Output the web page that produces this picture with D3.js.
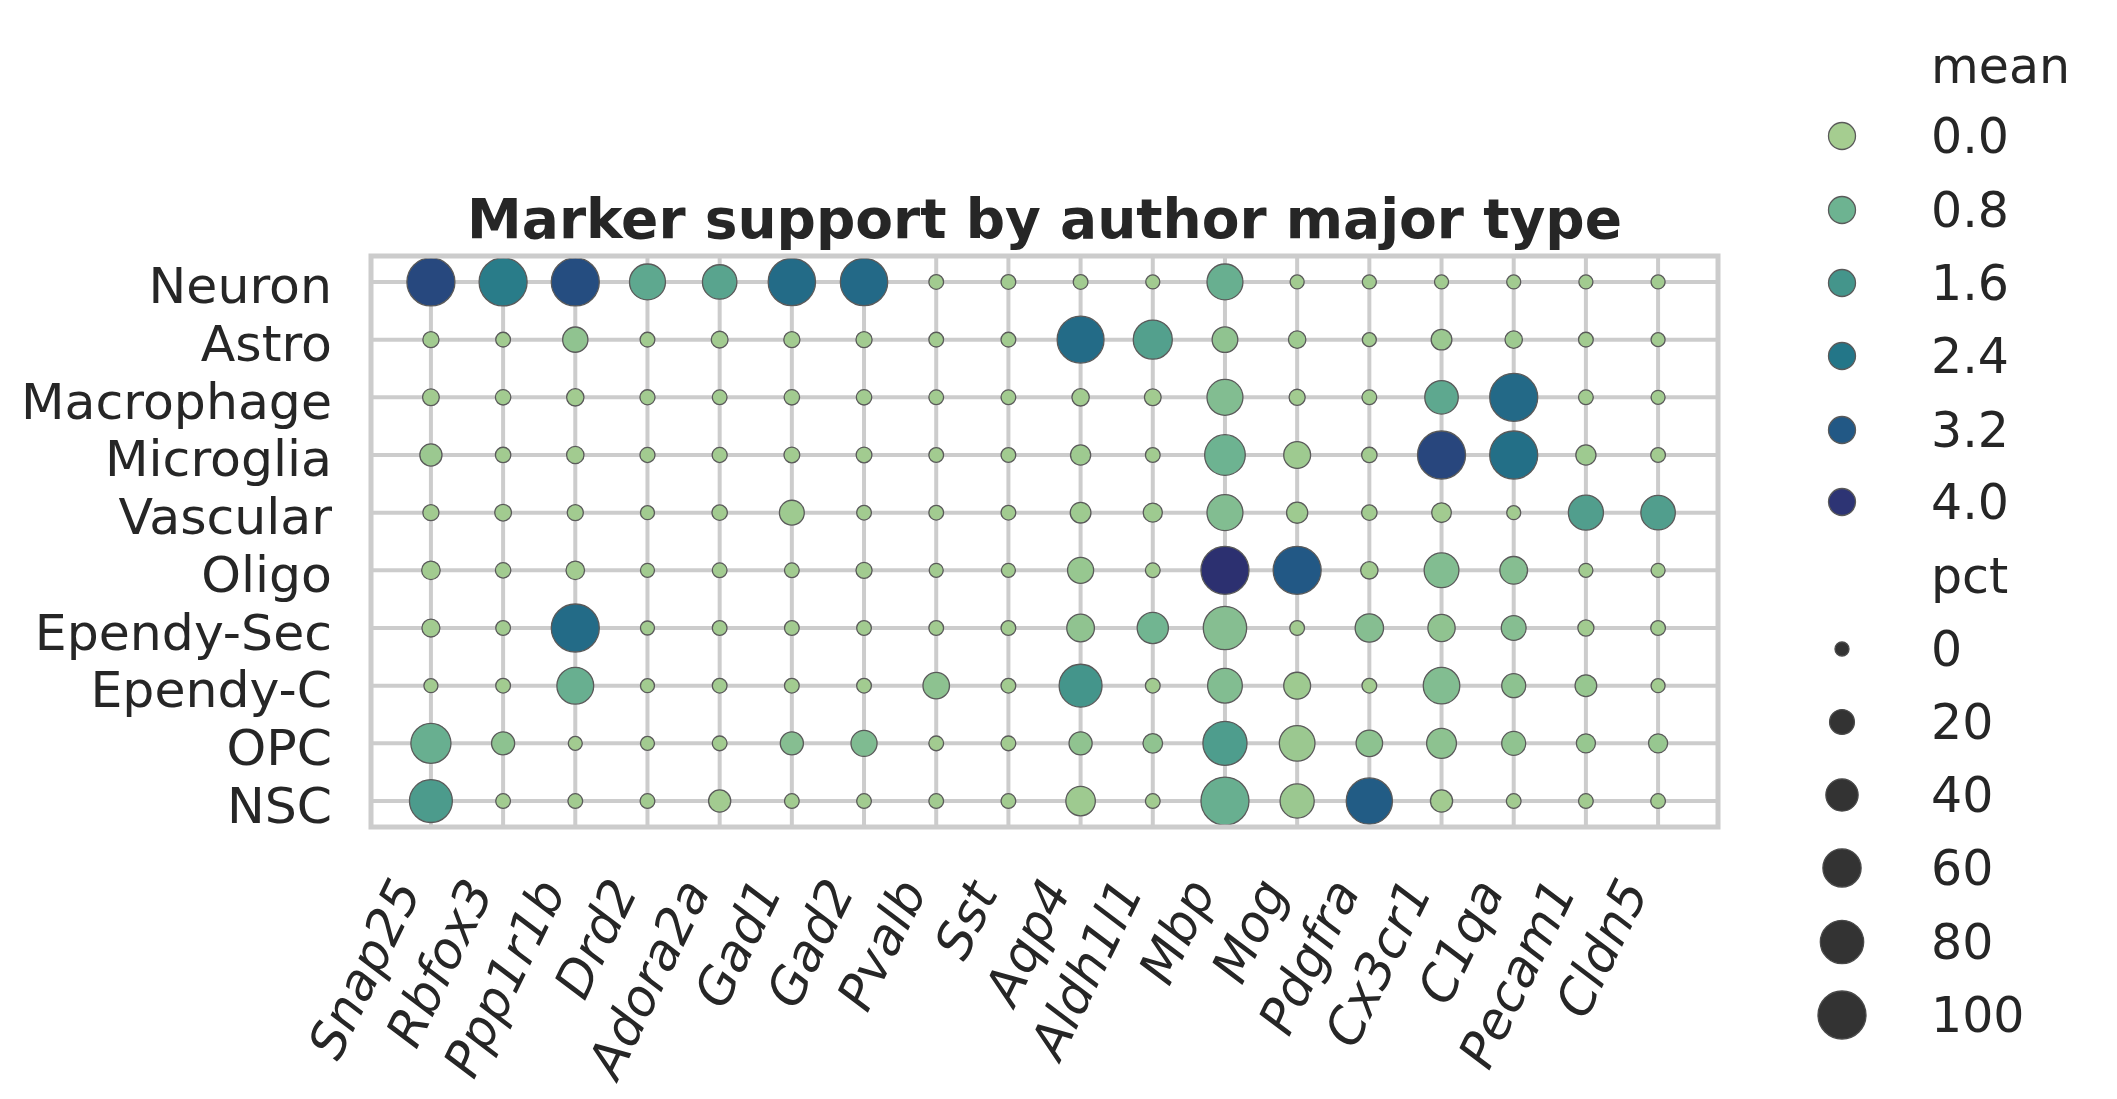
<!DOCTYPE html>
<html><head><meta charset="utf-8">
<script src="https://cdn.jsdelivr.net/npm/d3@7"></script>
<style>
html,body{margin:0;padding:0;background:#fff;}
svg{display:block;font-family:"DejaVu Sans",sans-serif;}
</style></head>
<body>
<svg id="chart" width="2117" height="1099"></svg>
<script>
const cellTypes = ["Neuron","Astro","Macrophage","Microglia","Vascular","Oligo","Ependy-Sec","Ependy-C","OPC","NSC"];
const genes = ["Snap25","Rbfox3","Ppp1r1b","Drd2","Adora2a","Gad1","Gad2","Pvalb","Sst","Aqp4","Aldh1l1","Mbp","Mog","Pdgfra","Cx3cr1","C1qa","Pecam1","Cldn5"];

// pct (size) per cell type, one value per gene
const pctNeuron     = [100,100,100,52,47,97,97,1,1,1,0,52,0,0,0,0,0,0];
const pctAstro      = [3,1,21,1,4,3,3,1,1,95,63,22,5,0,11,5,1,0];
const pctMacrophage = [4,2,5,1.5,1,2,2,1,1,5,4,52,3,1,44,100,1,0];
const pctMicroglia  = [14,2,5,1.5,1.5,2.5,2.5,1,1,10,1,69,25,2,100,100,10,1];
const pctVascular   = [3,4,3,0,2,20,1,1,1,11,8,52,12,2,9,0,49,47];
const pctOligo      = [7,2,7,0,1,1,3,0,0,23,1,100,100,5,48,27,0,0];
const pctEpendySec  = [6,1,100,0,1,1,1,1,1,27,37,80,1,29,26,20,3,1];
const pctEpendyC    = [0,1,55,0,1,1,1,24,1,78,1,48,25,1,54,18,13,0];
const pctOPC        = [67,16,0,0,1,16,23,1,1,16,9,83,51,24,33,18,8,8];
const pctNSC        = [78,1,1,1,14,1,1,1,1,32,1,100,46,92,14,1,1,1];

// mean (colour) per cell type, one value per gene
const meanNeuron     = [3.55,2.25,3.45,1.1,1.2,2.7,2.75,0.05,0.05,0.05,0.05,0.9,0.05,0.05,0.05,0.05,0.05,0.05];
const meanAstro      = [0.05,0.05,0.3,0.05,0.05,0.05,0.05,0.05,0.05,2.7,1.3,0.3,0.1,0.05,0.15,0.1,0.05,0.05];
const meanMacrophage = [0.05,0.05,0.05,0.05,0.05,0.05,0.05,0.05,0.05,0.05,0.05,0.5,0.05,0.05,1.1,2.75,0.05,0.05];
const meanMicroglia  = [0.15,0.05,0.05,0.05,0.05,0.05,0.05,0.05,0.05,0.1,0.05,0.8,0.1,0.05,3.6,2.6,0.1,0.05];
const meanVascular   = [0.05,0.05,0.05,0.05,0.05,0.1,0.05,0.05,0.05,0.1,0.1,0.5,0.1,0.05,0.05,0.05,1.35,1.35];
const meanOligo      = [0.05,0.05,0.05,0.05,0.05,0.05,0.05,0.05,0.05,0.2,0.05,4.3,3.2,0.05,0.5,0.45,0.05,0.05];
const meanEpendySec  = [0.05,0.05,2.7,0.05,0.05,0.05,0.05,0.05,0.05,0.3,0.75,0.45,0.05,0.45,0.3,0.45,0.05,0.05];
const meanEpendyC    = [0.05,0.05,0.9,0.05,0.05,0.05,0.05,0.35,0.05,1.6,0.05,0.5,0.1,0.05,0.5,0.35,0.2,0.05];
const meanOPC        = [0.9,0.35,0.05,0.05,0.05,0.45,0.55,0.05,0.05,0.3,0.3,1.4,0.15,0.35,0.35,0.3,0.2,0.2];
const meanNSC        = [1.45,0.05,0.05,0.05,0.05,0.05,0.05,0.05,0.05,0.1,0.05,0.9,0.15,3.1,0.05,0.05,0.05,0.05];

const meanTicks = ["0.0","0.8","1.6","2.4","3.2","4.0"];
const pctTicks = ["0","20","40","60","80","100"];

const pctRows = [pctNeuron,pctAstro,pctMacrophage,pctMicroglia,pctVascular,pctOligo,pctEpendySec,pctEpendyC,pctOPC,pctNSC];
const meanRows = [meanNeuron,meanAstro,meanMacrophage,meanMicroglia,meanVascular,meanOligo,meanEpendySec,meanEpendyC,meanOPC,meanNSC];

const data = [];
cellTypes.forEach((ct,i)=>genes.forEach((g,j)=>data.push({ct, g, pct:pctRows[i][j], mean:meanRows[i][j]})));

// ---- styling / layout ----
const svg = d3.select("#chart");
const textCol = "#262626";
const L = 371, R = 1718, T = 256, B = 827;

const x = d3.scalePoint().domain(genes).range([L,R]).padding(0.83);
const y = d3.scalePoint().domain(cellTypes).range([T,B]).padding(0.45);

// crest-like colour ramp
const color = d3.scaleLinear()
  .domain([0,0.8,1.6,2.4,3.2,4.0,4.4])
  .range(["#a5cd90","#6db391","#44958b","#237688","#225885","#2d3474","#2b2f6e"])
  .interpolate(d3.interpolateRgb).clamp(true);

// size: area linear in pct
const dMin = 14, dMax = 48;
const area = d3.scaleLinear().domain([0,100]).range([dMin*dMin, dMax*dMax]);
const radius = v => Math.sqrt(area(v))/2;

// grid
const grid = svg.append("g");
grid.selectAll("line.v").data(genes).join("line")
  .attr("x1",d=>x(d)).attr("x2",d=>x(d)).attr("y1",T).attr("y2",B)
  .attr("stroke","#cccccc").attr("stroke-width",4);
grid.selectAll("line.h").data(cellTypes).join("line")
  .attr("y1",d=>y(d)).attr("y2",d=>y(d)).attr("x1",L).attr("x2",R)
  .attr("stroke","#cccccc").attr("stroke-width",4);

// dots
svg.append("g").selectAll("circle").data(data).join("circle")
  .attr("cx",d=>x(d.g)).attr("cy",d=>y(d.ct)).attr("r",d=>radius(d.pct))
  .attr("fill",d=>color(d.mean)).attr("stroke","#5a5a5a").attr("stroke-width",1.3);

// frame
svg.append("rect").attr("x",L).attr("y",T).attr("width",R-L).attr("height",B-T)
  .attr("fill","none").attr("stroke","#cccccc").attr("stroke-width",5);

// y tick labels
svg.append("g").selectAll("text").data(cellTypes).join("text")
  .attr("x",332).attr("y",d=>y(d)+4).attr("text-anchor","end")
  .attr("dominant-baseline","central").attr("font-size",50.5).attr("fill",textCol)
  .text(d=>d);

// x tick labels, rotated, bbox top-right anchored
const xl = svg.append("g");
genes.forEach(g=>{
  const grp = xl.append("g");
  grp.append("text").attr("text-anchor","end").attr("transform","rotate(-64)")
    .attr("font-size",50.5).attr("font-style","italic").attr("fill",textCol).text(g);
  const bb = grp.node().getBBox();
  const tx = x(g) + 2, ty = 870;
  grp.attr("transform",`translate(${tx-(bb.x+bb.width)},${ty-bb.y})`);
});

// title
svg.append("text").attr("x",(L+R)/2).attr("y",238).attr("text-anchor","middle")
  .attr("font-size",55).attr("font-weight","bold").attr("fill",textCol)
  .text("Marker support by author major type");

// legend
const mx = 1842, tx = 1931;
const lg = svg.append("g");
lg.append("text").attr("x",tx).attr("y",66).attr("dominant-baseline","central")
  .attr("font-size",49).attr("fill",textCol).text("mean");
const meanY = [136,210,283,356,430,502];
meanTicks.forEach((t,i)=>{
  lg.append("circle").attr("cx",mx).attr("cy",meanY[i]).attr("r",13.5)
    .attr("fill",color(+t)).attr("stroke","#5a5a5a").attr("stroke-width",1.3);
  lg.append("text").attr("x",tx).attr("y",meanY[i]).attr("dominant-baseline","central")
    .attr("font-size",49).attr("fill",textCol).text(t);
});
lg.append("text").attr("x",tx).attr("y",576).attr("dominant-baseline","central")
  .attr("font-size",49).attr("fill",textCol).text("pct");
const pctY = [649,722,795,868,942,1015];
pctTicks.forEach((t,i)=>{
  lg.append("circle").attr("cx",mx).attr("cy",pctY[i]).attr("r",radius(+t))
    .attr("fill","#333333").attr("stroke","#4a4a4a").attr("stroke-width",1.3);
  lg.append("text").attr("x",tx).attr("y",pctY[i]).attr("dominant-baseline","central")
    .attr("font-size",49).attr("fill",textCol).text(t);
});
</script>
</body></html>
